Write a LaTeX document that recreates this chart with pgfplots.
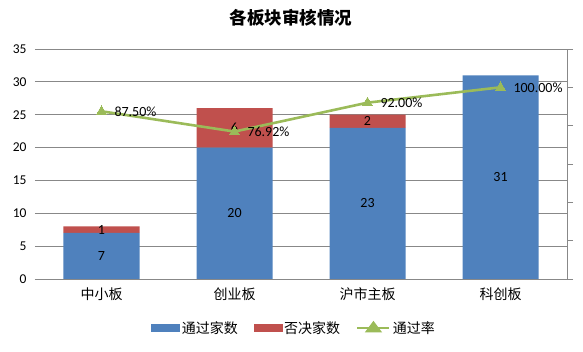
\documentclass[border=0pt]{standalone}
\usepackage{fontspec}
\setmainfont{Carlito}
\newfontfamily\cjk{Noto Sans CJK SC}
\usepackage{pgfplots}
\pgfplotsset{compat=1.18}
\definecolor{cblue}{HTML}{4F81BD}
\definecolor{cred}{HTML}{C0504D}
\definecolor{cgreen}{HTML}{9BBB59}
\definecolor{cgrid}{HTML}{888888}
\begin{document}
\begin{tikzpicture}
\path[use as bounding box] (0,0) rectangle (583pt,352pt);
\node[font=\cjk\bfseries\fontsize{17.5}{20}\selectfont] at (291pt,334pt) {各板块审核情况};
% bars
\begin{axis}[
  at={(35pt,73pt)}, anchor=south west,
  scale only axis, width=532pt, height=230pt,
  ybar stacked, bar width=76pt,
  xmin=-0.5, xmax=3.5, ymin=0, ymax=35,
  ytick={0,5,...,35},
  xtick={0,1,2,3},
  xticklabels={中小板,创业板,沪市主板,科创板},
  x tick label style={font=\cjk\fontsize{14}{16}\selectfont, yshift=-5pt},
  yticklabel style={font=\fontsize{13.5}{16}\selectfont, xshift=-5pt},
  /pgf/number format/assume math mode=true,
  axis x line*=bottom, axis y line*=left,
  y axis line style={draw=none},
  x axis line style={draw=cgrid, line width=0.8pt, -},
  ytick style={draw=none}, xtick style={draw=none},
  ymajorgrids, major grid style={draw=cgrid, line width=0.8pt},
  clip=false,
]
\addplot[fill=cblue, draw=none] coordinates {(0,7) (1,20) (2,23) (3,31)};
\addplot[fill=cred, draw=none] coordinates {(0,1) (1,6) (2,2) (3,0)};
\end{axis}
% bar labels
\begin{axis}[
  at={(35pt,73pt)}, anchor=south west,
  scale only axis, width=532pt, height=230pt,
  xmin=-0.5, xmax=3.5, ymin=0, ymax=35, hide axis, clip=false,
]
\addplot[draw=none, mark=none, nodes near coords, point meta=explicit symbolic,
  every node near coord/.style={font=\fontsize{14}{16}\selectfont, anchor=center, text=black}]
  coordinates {(0,3.5)[7] (1,10)[20] (2,11.5)[23] (3,15.5)[31]
               (0,7.5)[1] (1,23)[6] (2,24)[2]};
\end{axis}
% line
\begin{axis}[
  at={(35pt,73pt)}, anchor=south west,
  scale only axis, width=532pt, height=230pt,
  xmin=-0.5, xmax=3.5, ymin=0, ymax=1.2,
  ytick={0,0.2,...,1.2}, yticklabels={},
  axis y line*=right, axis x line=none,
  y axis line style={draw=cgrid, line width=0.8pt, -},
  ytick style={draw=cgrid, line width=0.8pt}, tick align=outside, major tick length=6pt,
  clip=false,
  legend style={at={(0.487,-0.213)}, anchor=center, draw=none, legend columns=3,
    font=\cjk\fontsize{14}{16}\selectfont, inner sep=0pt,
    /tikz/every even column/.append style={column sep=14pt}},
]
\addlegendimage{legend image code/.code={\fill[cblue] (0pt,-3.5pt) rectangle (28pt,3.5pt);}}
\addlegendentry{通过家数}
\addlegendimage{legend image code/.code={\fill[cred] (0pt,-3.5pt) rectangle (28pt,3.5pt);}}
\addlegendentry{否决家数}
\addplot[cgreen, line width=2.6pt, mark=triangle*, mark size=5.5pt,
  mark options={line width=0pt},
  legend image code/.code={\draw[cgreen, line width=2.6pt] (0pt,0pt)--(32pt,0pt); \fill[cgreen] (16pt,5pt)--(10pt,-3pt)--(22pt,-3pt)--cycle;},
  nodes near coords, point meta=explicit symbolic,
  every node near coord/.style={font=\fontsize{14}{16}\selectfont, anchor=west, text=black, xshift=12pt, inner sep=1pt}]
  coordinates {(0,0.875)[87.50\%] (1,0.7692)[76.92\%] (2,0.92)[92.00\%] (3,1.0)[100.00\%]};
\addlegendentry{通过率}
\end{axis}
\end{tikzpicture}
\end{document}
